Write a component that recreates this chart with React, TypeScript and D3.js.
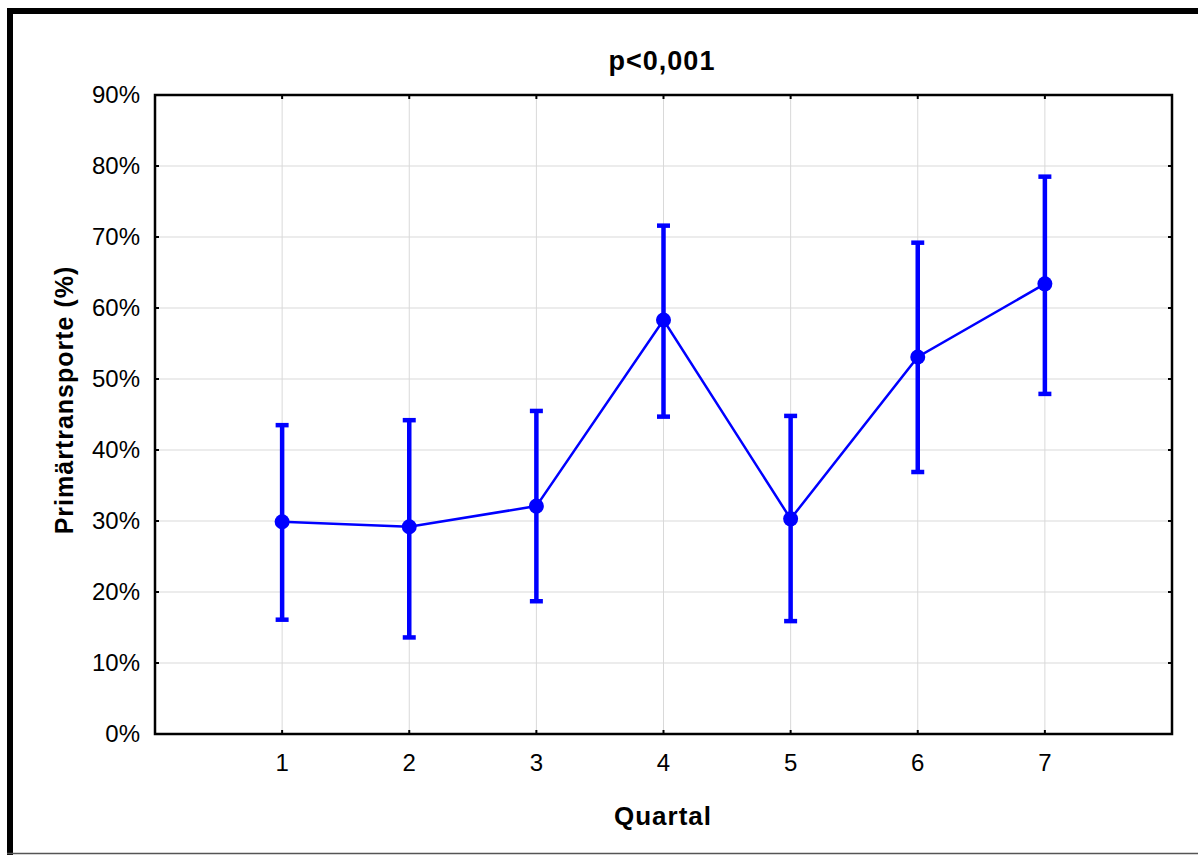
import React from "react";
import * as d3 from "d3";

// Data
const quartals = [1, 2, 3, 4, 5, 6, 7];
const means = [29.9, 29.2, 32.1, 58.3, 30.3, 53.1, 63.4];
const upper = [43.5, 44.2, 45.5, 71.6, 44.8, 69.2, 78.5];
const lower = [16.1, 13.6, 18.7, 44.7, 15.9, 36.9, 47.9];
const yTicks = [0, 10, 20, 30, 40, 50, 60, 70, 80, 90];

const title = "p<0,001";
const xTitle = "Quartal";
const yTitle = "Primärtransporte (%)";

const W = 1198;
const H = 855;
const left = 155;
const right = 1172;
const top = 95;
const bottom = 734;

const font = "'Liberation Sans', Arial, sans-serif";
const blue = "#0000ff";

const App = () => {
    // Scales
    const xScale = d3.scaleLinear().domain([0, 8]).range([left, right]);
    const yScale = d3.scaleLinear().domain([0, 90]).range([bottom, top]);

    const rows = quartals.map((q, i) => ({q, m: means[i], hi: upper[i], lo: lower[i]}));

    const lineGenerator = d3.line<{q: number; m: number}>()
        .x((d) => xScale(d.q))
        .y((d) => yScale(d.m));

    return (
        <svg width={W} height={H} style={{position: "absolute", left: 0, top: 0, background: "#fff"}}>
            {/* outer frame */}
            <rect x={7} y={8} width={6} height={H - 8} fill="#000" />
            <rect x={7} y={8} width={W - 7} height={6} fill="#000" />
            <line x1={7} x2={W} y1={853.5} y2={853.5} stroke="#555" strokeWidth={1.5} />

            {/* grid */}
            {yTicks.slice(1, -1).map((t) => (
                <line key={"gy" + t} x1={left} x2={right} y1={yScale(t)} y2={yScale(t)}
                      stroke="#d9d9d9" strokeWidth={1} />
            ))}
            {quartals.map((q) => (
                <line key={"gx" + q} x1={xScale(q)} x2={xScale(q)} y1={top} y2={bottom}
                      stroke="#d9d9d9" strokeWidth={1} />
            ))}

            {/* ticks inside the box */}
            {yTicks.map((t) => (
                <g key={"ty" + t}>
                    <line x1={left} x2={left + 4} y1={yScale(t)} y2={yScale(t)} stroke="#000" strokeWidth={2} />
                    <line x1={right - 4} x2={right} y1={yScale(t)} y2={yScale(t)} stroke="#000" strokeWidth={2} />
                </g>
            ))}
            {quartals.map((q) => (
                <g key={"tx" + q}>
                    <line x1={xScale(q)} x2={xScale(q)} y1={top} y2={top + 4} stroke="#000" strokeWidth={2} />
                    <line x1={xScale(q)} x2={xScale(q)} y1={bottom - 4} y2={bottom} stroke="#000" strokeWidth={2} />
                </g>
            ))}

            {/* plot box */}
            <rect x={left} y={top} width={right - left} height={bottom - top}
                  fill="none" stroke="#000" strokeWidth={2.5} />

            {/* tick labels */}
            {yTicks.map((t) => (
                <text key={"ly" + t} x={left - 15} y={yScale(t)} dy="0.35em" textAnchor="end"
                      fontFamily={font} fontSize={24} fill="#000">{t}%</text>
            ))}
            {quartals.map((q) => (
                <text key={"lx" + q} x={xScale(q)} y={771} textAnchor="middle"
                      fontFamily={font} fontSize={24} fill="#000">{q}</text>
            ))}

            {/* error bars */}
            {rows.map((d) => (
                <g key={"eb" + d.q}>
                    <line x1={xScale(d.q)} x2={xScale(d.q)} y1={yScale(d.lo)} y2={yScale(d.hi)}
                          stroke={blue} strokeWidth={4.5} />
                    <line x1={xScale(d.q) - 6.5} x2={xScale(d.q) + 6.5} y1={yScale(d.hi)} y2={yScale(d.hi)}
                          stroke={blue} strokeWidth={4.5} />
                    <line x1={xScale(d.q) - 6.5} x2={xScale(d.q) + 6.5} y1={yScale(d.lo)} y2={yScale(d.lo)}
                          stroke={blue} strokeWidth={4.5} />
                </g>
            ))}

            {/* mean line and markers */}
            <path d={lineGenerator(rows) || ""} fill="none" stroke={blue} strokeWidth={2.5} />
            {rows.map((d) => (
                <circle key={"pt" + d.q} cx={xScale(d.q)} cy={yScale(d.m)} r={7.5} fill={blue} />
            ))}

            {/* titles */}
            <text x={662} y={70} textAnchor="middle" fontFamily={font} fontSize={27}
                  fontWeight="bold" letterSpacing={1} fill="#000">{title}</text>
            <text x={663} y={825} textAnchor="middle" fontFamily={font} fontSize={26}
                  fontWeight="bold" letterSpacing={1} fill="#000">{xTitle}</text>
            <text transform="translate(73,400) rotate(-90)" textAnchor="middle" fontFamily={font}
                  fontSize={25} fontWeight="bold" letterSpacing={1} fill="#000">{yTitle}</text>
        </svg>
    );
};

export default App;
